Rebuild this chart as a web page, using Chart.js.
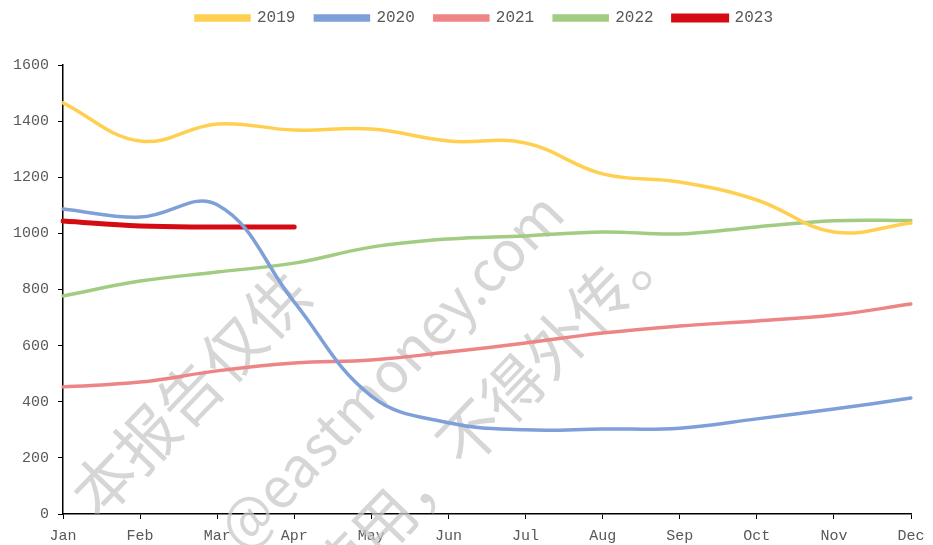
<!DOCTYPE html>
<html lang="en">
<head>
    <meta charset="UTF-8">
    <title>Monthly chart</title>
    <script src="https://cdn.jsdelivr.net/npm/chart.js@4.4.0/dist/chart.umd.min.js"></script>
    <style>
        * {
            margin: 0;
            padding: 0;
            box-sizing: border-box;
        }

        body {
            background: #fff;
            width: 933px;
            height: 545px;
            overflow: hidden;
        }

        .chart-box {
            position: relative;
            width: 933px;
            height: 545px;
        }
    </style>
</head>
<body>
    <div class="chart-box">
        <canvas id="mainChart"></canvas>
    </div>

    <script>
        // Data
        const months = ['Jan', 'Feb', 'Mar', 'Apr', 'May', 'Jun', 'Jul', 'Aug', 'Sep', 'Oct', 'Nov', 'Dec'];
        const y2019 = [1465, 1329, 1390, 1368, 1372, 1329, 1322, 1212, 1183, 1119, 1005, 1037];
        const y2020 = [1087, 1058, 1102, 755, 420, 325, 300, 303, 306, 339, 374, 413];
        const y2021 = [453, 470, 510, 538, 549, 577, 609, 645, 670, 688, 709, 748];
        const y2022 = [777, 830, 862, 894, 951, 980, 991, 1005, 998, 1023, 1045, 1046];
        const y2023 = [1044, 1026, 1023, 1023];
        const yTicks = [0, 200, 400, 600, 800, 1000, 1200, 1400, 1600];

        const labelFont = { family: 'Liberation Mono', size: 15 };
        const labelColor = '#595959';

        // light diagonal watermark behind the lines
        const watermarkLines = [
            { text: '本报告仅供', x: 82, y: 505, size: 62 },
            { text: '@eastmoney.com', x: 228, y: 538, size: 56 },
            { text: '使用，不得外传。', x: 319, y: 589, size: 62 }
        ];

        const watermark = {
            id: 'watermark',
            beforeDatasetsDraw(chart) {
                const ctx = chart.ctx;
                ctx.save();
                ctx.fillStyle = 'rgba(200, 200, 200, 0.75)';
                ctx.textAlign = 'left';
                ctx.textBaseline = 'middle';
                watermarkLines.forEach(w => {
                    ctx.save();
                    ctx.font = w.size + 'px "Noto Sans CJK SC"';
                    ctx.translate(w.x, w.y);
                    ctx.rotate(-46 * Math.PI / 180);
                    ctx.fillText(w.text, 0, 0);
                    ctx.restore();
                });
                ctx.restore();
            }
        };

        // more room under the legend, and nudge it a bit right
        const legendSpace = {
            id: 'legendSpace',
            beforeInit(chart) {
                const fit = chart.legend.fit;
                chart.legend.fit = function () {
                    fit.bind(chart.legend)();
                    this.height += 29;
                };
            },
            afterLayout(chart) {
                chart.legend.left += 27;
                chart.legend.right += 27;
            }
        };

        function series(label, data, color, width) {
            return {
                label: label,
                data: data,
                borderColor: color,
                backgroundColor: color,
                borderWidth: width,
                pointRadius: 0,
                pointHoverRadius: 0,
                tension: 0.4,
                borderCapStyle: 'round',
                fill: false
            };
        }

        new Chart(document.getElementById('mainChart'), {
            type: 'line',
            data: {
                labels: months,
                datasets: [
                    series('2019', y2019, '#ffd050', 3.5),
                    series('2020', y2020, '#7f9fd8', 3.5),
                    series('2021', y2021, '#ee8585', 3.5),
                    series('2022', y2022, '#a1cc82', 3.5),
                    series('2023', y2023, '#d40b12', 5)
                ]
            },
            options: {
                responsive: true,
                maintainAspectRatio: false,
                animation: false,
                layout: {
                    padding: { top: -10, right: 22, bottom: -8, left: 4 }
                },
                plugins: {
                    tooltip: { enabled: false },
                    legend: {
                        position: 'top',
                        labels: {
                            boxWidth: 53,
                            boxHeight: 4,
                            padding: 20,
                            color: labelColor,
                            font: { family: 'Liberation Mono', size: 16 }
                        }
                    }
                },
                scales: {
                    x: {
                        grid: {
                            display: true,
                            drawOnChartArea: false,
                            drawTicks: true,
                            tickLength: 5,
                            color: '#000'
                        },
                        border: { color: '#000', width: 1.5 },
                        ticks: {
                            color: labelColor,
                            font: labelFont,
                            autoSkip: false,
                            maxRotation: 0,
                            padding: 8
                        }
                    },
                    y: {
                        min: 0,
                        max: 1600,
                        afterBuildTicks: axis => {
                            axis.ticks = yTicks.map(v => ({ value: v }));
                        },
                        grid: {
                            display: true,
                            drawOnChartArea: false,
                            drawTicks: true,
                            tickLength: 5,
                            color: '#000'
                        },
                        border: { color: '#000', width: 1.5 },
                        ticks: {
                            color: labelColor,
                            font: labelFont,
                            padding: 9,
                            callback: v => String(v)
                        }
                    }
                }
            },
            plugins: [watermark, legendSpace]
        });
    </script>
</body>
</html>
